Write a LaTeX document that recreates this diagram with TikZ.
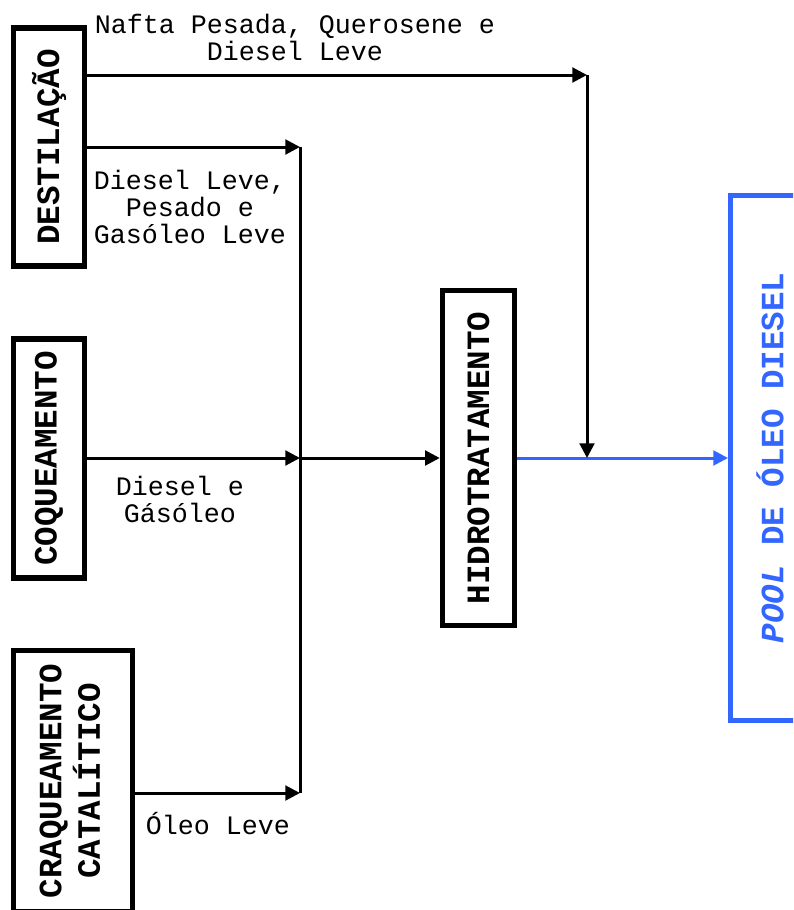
\documentclass[tikz,border=0pt]{standalone}
\usepackage{fontspec}
\newfontfamily\courier{Liberation Mono}
\usepackage{tikz}
\usetikzlibrary{arrows.meta}
\definecolor{poolblue}{HTML}{3366FF}

\begin{document}
\begin{tikzpicture}[x=0.75pt, y=-0.75pt,
  unit/.style={rectangle, draw, line width=4.1pt, inner sep=0pt,
               font=\courier\bfseries\fontsize{24.4}{28.5}\selectfont},
  pool/.style={rectangle, draw=poolblue, line width=3.75pt, inner sep=0pt,
               text=poolblue, font=\courier\bfseries\fontsize{24.4}{28.5}\selectfont},
  lbl/.style={inner sep=0pt, align=center,
              font=\courier\fontsize{20}{20.25}\selectfont},
  flow/.style={line width=2.25pt},
  >={Triangle[length=11pt,width=11pt]}
]
  \path[use as bounding box, clip] (0,0) rectangle (793,910);

  % units
  \node[unit, minimum width=53.25pt, minimum height=178.5pt] (dest) at (49,147)
    {\rotatebox{90}{DESTILAÇÃO}};
  \node[unit, minimum width=53.25pt, minimum height=179pt] (coq) at (49,458.5)
    {\rotatebox{90}{COQUEAMENTO}};
  \node[unit, minimum width=89.25pt, minimum height=195.75pt] (cat) at (73,781)
    {\rotatebox{90}{\begin{tabular}{@{}c@{}}CRAQUEAMENTO\\CATALÍTICO\end{tabular}}};
  \node[unit, minimum width=54pt, minimum height=251.25pt] (hidro) at (478.5,458)
    {\rotatebox{90}{HIDROTRATAMENTO}};
  \node[pool, minimum width=59.25pt, minimum height=394pt] (pool) at (770,458)
    {\rotatebox{90}{\textit{POOL} DE ÓLEO DIESEL}};

  % junctions
  \coordinate (top) at (587,75);
  \coordinate (mix) at (587,458);
  \coordinate (d2) at (300,147);
  \coordinate (c2) at (300,458);
  \coordinate (k2) at (300,793);

  % streams
  \draw[flow, ->, poolblue] (hidro) -- (pool);
  \draw[flow, ->] (dest.east |- top) -- (top);
  \draw[flow, ->] (top) -- (mix);
  \draw[flow, ->] (dest.east |- d2) -- (d2);
  \draw[flow] (d2) -- (k2);
  \draw[flow, ->] (coq.east |- c2) -- (c2);
  \draw[flow, ->] (c2) -- (hidro);
  \draw[flow, ->] (cat.east |- k2) -- (k2);

  % labels
  \node[lbl] (l1) at (295,37) {Nafta Pesada, Querosene e\\Diesel Leve};
  \node[lbl] (l2) at (190,207) {Diesel Leve,\\Pesado e\\Gasóleo Leve};
  \node[lbl] (l3) at (180,499) {Diesel e\\Gásóleo};
  \node[lbl] (l4) at (218,824) {Óleo Leve};
\end{tikzpicture}
\end{document}
